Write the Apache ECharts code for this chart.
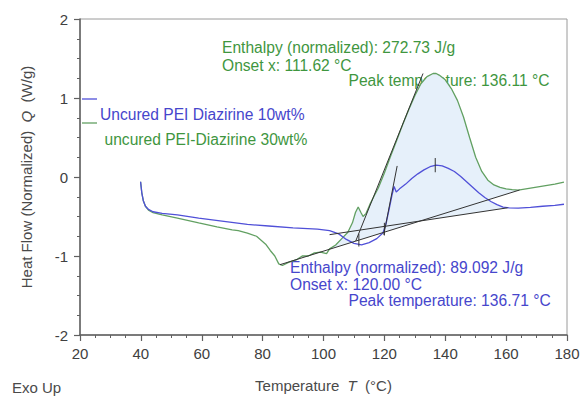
<!DOCTYPE html>
<html><head><meta charset="utf-8">
<script src="https://cdn.jsdelivr.net/npm/echarts@6/dist/echarts.min.js"></script>
<style>html,body{margin:0;padding:0;background:#fff}#c{width:586px;height:398px}</style>
</head><body><div id="c"></div>
<script>
// ---- data ----
const xTicks = [20, 40, 60, 80, 100, 120, 140, 160, 180];
const yTicks = [-2, -1, 0, 1, 2];

const blueT = [39.9,40.3,40.8,41.5,42.5,44,47,52,59,66,75,82,90,98,102,105,107.5,110,112.5,115,117.5,119.5,120.5,121.5,122.5,123.2,123.9,125,127,129,131,133,135,137,139,141,143,145,147,149,151,153,155,157,159,161,164,168,172,176,179];
const blueQ = [-0.06,-0.2,-0.3,-0.37,-0.41,-0.44,-0.46,-0.48,-0.52,-0.555,-0.6,-0.62,-0.645,-0.66,-0.68,-0.72,-0.79,-0.84,-0.86,-0.83,-0.78,-0.71,-0.6,-0.42,-0.23,-0.12,-0.19,-0.15,-0.09,-0.02,0.04,0.09,0.13,0.15,0.14,0.11,0.07,0.01,-0.06,-0.13,-0.2,-0.26,-0.31,-0.35,-0.38,-0.39,-0.395,-0.385,-0.37,-0.36,-0.345];

const greenT = [39.9,40.3,40.8,41.5,42.5,44,47,52,59,65,70,72,75,78,79.5,81,82.5,84,85.3,86.5,88.5,91,93,95,97,99,101,102,104,106,108,109.5,110.5,111.4,112.3,113,114,115.2,116.5,118,120,122,124,126,128,130,132,134,136,137,138,140,142,144,146,148,150,152,154,156,158,160,162,164,168,172,176,179];
const greenQ = [-0.06,-0.2,-0.3,-0.37,-0.42,-0.45,-0.48,-0.52,-0.58,-0.63,-0.67,-0.68,-0.71,-0.75,-0.8,-0.85,-0.93,-1.0,-1.1,-1.12,-1.08,-1.05,-1.0,-1.0,-0.96,-0.95,-0.97,-0.91,-0.86,-0.78,-0.7,-0.58,-0.45,-0.38,-0.45,-0.5,-0.46,-0.35,-0.25,-0.14,0.05,0.26,0.46,0.66,0.85,1.03,1.18,1.27,1.31,1.31,1.29,1.23,1.12,0.97,0.76,0.5,0.25,0.07,-0.04,-0.1,-0.13,-0.15,-0.16,-0.165,-0.14,-0.115,-0.09,-0.065];

// evaluation construction lines (endpoints)
const greenBaseline = [[85.7, -1.11], [164.4, -0.165]];
const greenTangent  = [[110.6, -0.81], [132.7, 1.31]];
const blueBaseline  = [[102, -0.73], [160.5, -0.39]];
const blueTangent   = [[119.8, -0.73], [124.2, 0.14]];
const greenOnsetMark = [[111.62, -0.72], [111.62, -0.88]];
const blueOnsetMark  = [[120.0, -0.58], [120.0, -0.74]];
const bluePeakMark   = [[136.71, 0.06], [136.71, 0.24]];
const greenFillRange = [102, 164.4];
const blueFillRange  = [119.8, 160.5];

const labelsGreen = ['Enthalpy (normalized): 272.73 J/g', 'Onset x: 111.62 °C', 'Peak temperature: 136.11 °C'];
const labelsBlue  = ['Enthalpy (normalized): 89.092 J/g', 'Onset x: 120.00 °C', 'Peak temperature: 136.71 °C'];
const seriesNames = ['Uncured PEI Diazirine 10wt%', 'uncured PEI-Diazirine 30wt%'];

// ---- build ----
const zip = (a, b) => a.map((v, i) => [v, b[i]]);
const blueData = zip(blueT, blueQ);
const greenData = zip(greenT, greenQ);

function fillPoly(curve, range, base) {
  const pts = curve.filter(p => p[0] >= range[0] && p[0] <= range[1]);
  const b0 = base[0], b1 = base[1];
  const bAt = t => b0[1] + (b1[1] - b0[1]) * (t - b0[0]) / (b1[0] - b0[0]);
  pts.push([range[1], bAt(range[1])]);
  pts.push([range[0], bAt(range[0])]);
  return pts;
}
const greenPoly = fillPoly(greenData, greenFillRange, greenBaseline);
const bluePoly = fillPoly(blueData, blueFillRange, blueBaseline);

const FONT = '"Liberation Sans", Arial, sans-serif';
const GREEN_TXT = '#3f963f', BLUE_TXT = '#4646cc';
const BLUE_LINE = '#5050d8', GREEN_LINE = '#62a062', FILL = '#e6f0fa';

const chart = echarts.init(document.getElementById('c'), null, {renderer: 'svg'});

function polySeries(poly) {
  return {
    type: 'custom', silent: true, z: 1,
    data: [0],
    renderItem: function (params, api) {
      return {type: 'polygon', shape: {points: poly.map(p => api.coord(p))},
              style: {fill: FILL, stroke: null}};
    }
  };
}
function segSeries(pts, color, w) {
  return {type: 'line', data: pts, symbol: 'none', silent: true, z: 4,
          lineStyle: {color: color || '#333', width: w || 1}};
}

const txt = (t, x, y, color, size) => ({
  type: 'text', x: x, y: y, silent: true,
  style: {text: t, fill: color, fontSize: size || 15.6, fontFamily: FONT, verticalAlign: 'middle', align: 'left'}
});

chart.setOption({
  animation: false,
  backgroundColor: '#fff',
  grid: {left: 80, right: 19, top: 19, bottom: 62, show: true, borderColor: '#9a9a9a', borderWidth: 1},
  xAxis: {
    type: 'value', min: xTicks[0], max: xTicks[xTicks.length - 1], interval: 20,
    name: 'Temperature  {i|T}  (°C)', nameLocation: 'middle', nameGap: 43,
    nameTextStyle: {fontSize: 15, color: '#4a4a4a', fontFamily: FONT,
      rich: {i: {fontStyle: 'italic', fontSize: 15, color: '#4a4a4a', fontFamily: FONT}}},
    axisLine: {onZero: false, lineStyle: {color: '#606060', width: 1.5}},
    axisTick: {length: 6, lineStyle: {color: '#606060', width: 1.2}},
    minorTick: {show: true, splitNumber: 4, length: 3, lineStyle: {color: '#606060'}},
    axisLabel: {fontSize: 15, color: '#404040', fontFamily: FONT, margin: 11},
    splitLine: {show: false}
  },
  yAxis: {
    type: 'value', min: yTicks[0], max: yTicks[yTicks.length - 1], interval: 1,
    name: 'Heat Flow (Normalized)  {i|Q}  (W/g)', nameLocation: 'middle', nameGap: 46, nameRotate: 90,
    nameTextStyle: {fontSize: 15, color: '#4a4a4a', fontFamily: FONT,
      rich: {i: {fontStyle: 'italic', fontSize: 15, color: '#4a4a4a', fontFamily: FONT}}},
    axisLine: {show: true, onZero: false, lineStyle: {color: '#606060', width: 1.5}},
    axisTick: {show: true, length: 6, lineStyle: {color: '#606060', width: 1.2}},
    minorTick: {show: true, splitNumber: 4, length: 3, lineStyle: {color: '#606060'}},
    axisLabel: {fontSize: 15, color: '#404040', fontFamily: FONT, margin: 12},
    splitLine: {show: false}
  },
  series: [
    polySeries(greenPoly),
    polySeries(bluePoly),
    {name: seriesNames[1], type: 'line', data: greenData, symbol: 'none', z: 3,
     lineStyle: {color: GREEN_LINE, width: 1.3}},
    {name: seriesNames[0], type: 'line', data: blueData, symbol: 'none', z: 3,
     lineStyle: {color: BLUE_LINE, width: 1.3}},
    segSeries(greenBaseline), segSeries(greenTangent),
    segSeries(blueBaseline), segSeries(blueTangent),
    segSeries(greenOnsetMark), segSeries(blueOnsetMark), segSeries(bluePeakMark)
  ],
  graphic: [
    {type: 'line', shape: {x1: 82, y1: 99, x2: 97, y2: 99}, style: {stroke: BLUE_LINE, lineWidth: 1.3}},
    {type: 'line', shape: {x1: 82, y1: 123, x2: 97, y2: 123}, style: {stroke: GREEN_LINE, lineWidth: 1.3}},
    txt(seriesNames[0], 100, 114.5, BLUE_TXT),
    txt(seriesNames[1], 104.5, 139.5, GREEN_TXT),
    txt(labelsGreen[0], 222, 47, GREEN_TXT),
    txt(labelsGreen[1], 222, 65.5, GREEN_TXT),
    txt(labelsGreen[2], 348.5, 80.5, GREEN_TXT),
    txt(labelsBlue[0], 290, 267.5, BLUE_TXT),
    txt(labelsBlue[1], 290, 284.3, BLUE_TXT),
    txt(labelsBlue[2], 348.5, 300.3, BLUE_TXT),
    txt('Exo Up', 12, 387, '#4a4a4a', 15)
  ]
});
</script></body></html>
